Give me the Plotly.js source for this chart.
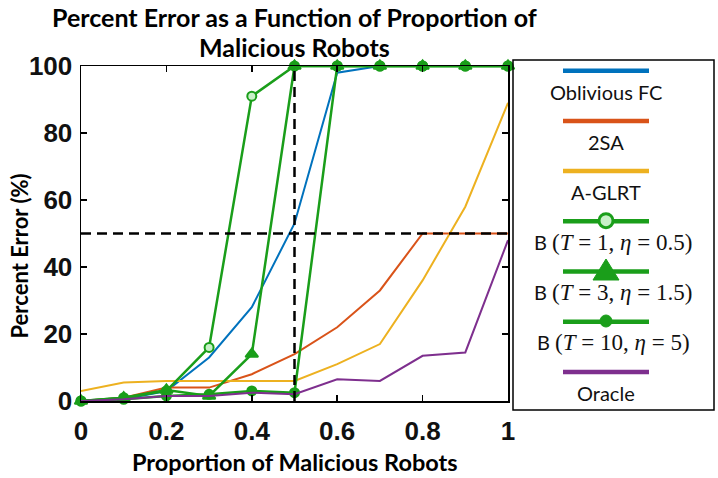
<!DOCTYPE html>
<html>
<head>
<meta charset="utf-8">
<script src="https://cdn.plot.ly/plotly-3.0.1.min.js"></script>
<style>
  body { margin: 0; background: #fff; }
  #myDiv { width: 718px; height: 478px; }
</style>
</head>
<body>
<div id="myDiv"></div>
<script>
// proportion of malicious robots
var proportion = [0, 0.1, 0.2, 0.3, 0.4, 0.5, 0.6, 0.7, 0.8, 0.9, 1];

// percent error for each method
var obliviousFC = [0, 0.5, 3, 13, 28, 53, 98, 100, 100, 100, 100];
var twoSA       = [0, 1, 4, 4, 8, 14, 22, 33, 50, 50, 50];
var aGLRT       = [3, 5.5, 6, 6, 6, 6, 11, 17, 36, 58, 89];
var bT1         = [0, 1, 3, 16, 91, 100, 100, 100, 100, 100, 100];
var bT3         = [0, 1, 3.3, 1.5, 14, 100, 100, 100, 100, 100, 100];
var bT10        = [0, 0.5, 1.5, 2, 3, 2.5, 100, 100, 100, 100, 100];
var oracle      = [0, 0.5, 1.5, 1.5, 2.5, 2, 6.5, 6, 13.5, 14.5, 48];

var M = function (s) { return '<span style="font-family:Liberation Serif;font-size:23px">' + s + '</span>'; };
var sp = '&nbsp;';
var names = ['Oblivious FC', '2SA', 'A-GLRT',
  'B ' + M('(<i>T</i>' + sp + '=' + sp + '1,' + sp + '<i>η</i>' + sp + '=' + sp + '0.5)'),
  'B ' + M('(<i>T</i>' + sp + '=' + sp + '3,' + sp + '<i>η</i>' + sp + '=' + sp + '1.5)'),
  'B ' + M('(<i>T</i>' + sp + '=' + sp + '10,' + sp + '<i>η</i>' + sp + '=' + sp + '5)'),
  'Oracle'];
var titleLines = ['Percent Error as a Function of Proportion of', 'Malicious Robots'];

var blue = '#0072BD', orange = '#D95319', yellow = '#EDB120',
    green = '#1a9e1a', purple = '#7E2F8E';

var threshold = 50;     // dashed horizontal line
var splitPoint = 0.5;   // dashed vertical line

function line(y, color, w) {
  return {x: proportion, y: y, type: 'scatter', mode: 'lines',
          line: {color: color, width: w || 2}, showlegend: false};
}
function bline(y, sym, size, fill) {
  return {x: proportion, y: y, type: 'scatter', mode: 'lines+markers', cliponaxis: false,
          line: {color: green, width: 2.5}, showlegend: false,
          marker: {symbol: sym, size: size, color: fill, line: {color: green, width: 2}}};
}

var data = [
  line(obliviousFC, blue),
  line(twoSA, orange),
  line(aGLRT, yellow),
  bline(bT1, 'circle', 9, '#c8f0c8'),
  bline(bT3, 'triangle-up', 11, green),
  bline(bT10, 'circle', 9, green),
  line(oracle, purple)
];

// plot area in pixels: x 81..508, y 66..401
var L = 81, R = 508, T = 66, B = 401;
function px(x) { return (x - L) / (R - L); }
function py(y) { return (B - y) / (B - T); }

var shapes = [
  {type: 'line', xref: 'x', yref: 'y', x0: 0, x1: 1, y0: threshold, y1: threshold,
   layer: 'above', line: {color: 'black', width: 2.5, dash: '10px,6px'}},
  {type: 'line', xref: 'x', yref: 'y', x0: splitPoint, x1: splitPoint, y0: 0, y1: 100,
   layer: 'above', line: {color: 'black', width: 2.5, dash: '10px,6px'}},
  // legend box
  {type: 'rect', xref: 'paper', yref: 'paper', x0: px(513), x1: px(714), y0: py(410), y1: py(60),
   line: {color: 'black', width: 1.5}}
];
var annotations = [];

var legColors = [blue, orange, yellow, green, green, green, purple];
var legCx = 606;
for (var i = 0; i < names.length; i++) {
  var ly = 70.7 + i * 50.2;
  shapes.push({type: 'line', xref: 'paper', yref: 'paper', x0: px(legCx - 43), x1: px(legCx + 43),
    y0: py(ly), y1: py(ly), line: {color: legColors[i], width: 4.5}});
  annotations.push({xref: 'paper', yref: 'paper', x: px(i >= 3 && i <= 5 ? 613 : legCx), y: py(ly + 21),
    text: names[i], showarrow: false, xanchor: 'center', yanchor: 'middle',
    font: {family: 'Lato, sans-serif', size: 20, color: '#111'}});
}
// legend markers
shapes.push({type: 'circle', xref: 'paper', yref: 'paper', xsizemode: 'pixel', ysizemode: 'pixel',
  xanchor: px(606), yanchor: py(220.7), x0: -7, x1: 7, y0: -7, y1: 7,
  fillcolor: '#c8f0c8', line: {color: green, width: 3}});
shapes.push({type: 'path', xref: 'paper', yref: 'paper', xsizemode: 'pixel', ysizemode: 'pixel',
  xanchor: px(606), yanchor: py(271), path: 'M -13 -9 L 13 -9 L 0 12 Z',
  fillcolor: green, line: {color: green, width: 1}});
shapes.push({type: 'circle', xref: 'paper', yref: 'paper', xsizemode: 'pixel', ysizemode: 'pixel',
  xanchor: px(606), yanchor: py(321), x0: -6, x1: 6, y0: -6, y1: 6,
  fillcolor: green, line: {color: green, width: 1}});

// title lines
annotations.push({xref: 'paper', yref: 'paper', x: px(294), y: py(17), text: '<b>' + titleLines[0] + '</b>',
  showarrow: false, yanchor: 'middle', font: {family: 'Lato, sans-serif', size: 25, color: 'black'}});
annotations.push({xref: 'paper', yref: 'paper', x: px(294), y: py(47), text: '<b>' + titleLines[1] + '</b>',
  showarrow: false, yanchor: 'middle', font: {family: 'Lato, sans-serif', size: 25, color: 'black'}});

// axis titles
annotations.push({xref: 'paper', yref: 'paper', x: px(295), y: py(462), yanchor: 'middle',
  text: '<b>Proportion of Malicious Robots</b>', showarrow: false,
  font: {family: 'Lato, sans-serif', size: 23.5, color: 'black'}});
annotations.push({xref: 'paper', yref: 'paper', x: px(3), y: py(256), textangle: -90,
  text: '<b>Percent Error (%)</b>', showarrow: false,
  font: {family: 'Lato, sans-serif', size: 22, color: 'black'}});

var axisCommon = {
  showline: true, linecolor: 'black', linewidth: 1.5, mirror: 'ticks',
  ticks: 'inside', ticklen: 6, tickwidth: 1.5, tickcolor: 'black',
  showgrid: false, zeroline: false,
  tickfont: {family: 'Liberation Sans, Arial, sans-serif', size: 26, color: '#111', weight: 'bold'}
};

var layout = {
  width: 718, height: 478,
  margin: {l: L, r: 718 - R, t: T, b: 478 - B},
  paper_bgcolor: 'white', plot_bgcolor: 'white',
  xaxis: Object.assign({range: [0, 1], dtick: 0.2, tick0: 0, ticklabelstandoff: 6}, axisCommon),
  yaxis: Object.assign({range: [0, 100], dtick: 20, tick0: 0, ticklabelstandoff: 2}, axisCommon),
  shapes: shapes,
  annotations: annotations,
  showlegend: false
};

Plotly.newPlot('myDiv', data, layout, {displayModeBar: false, staticPlot: true});
</script>
</body>
</html>
